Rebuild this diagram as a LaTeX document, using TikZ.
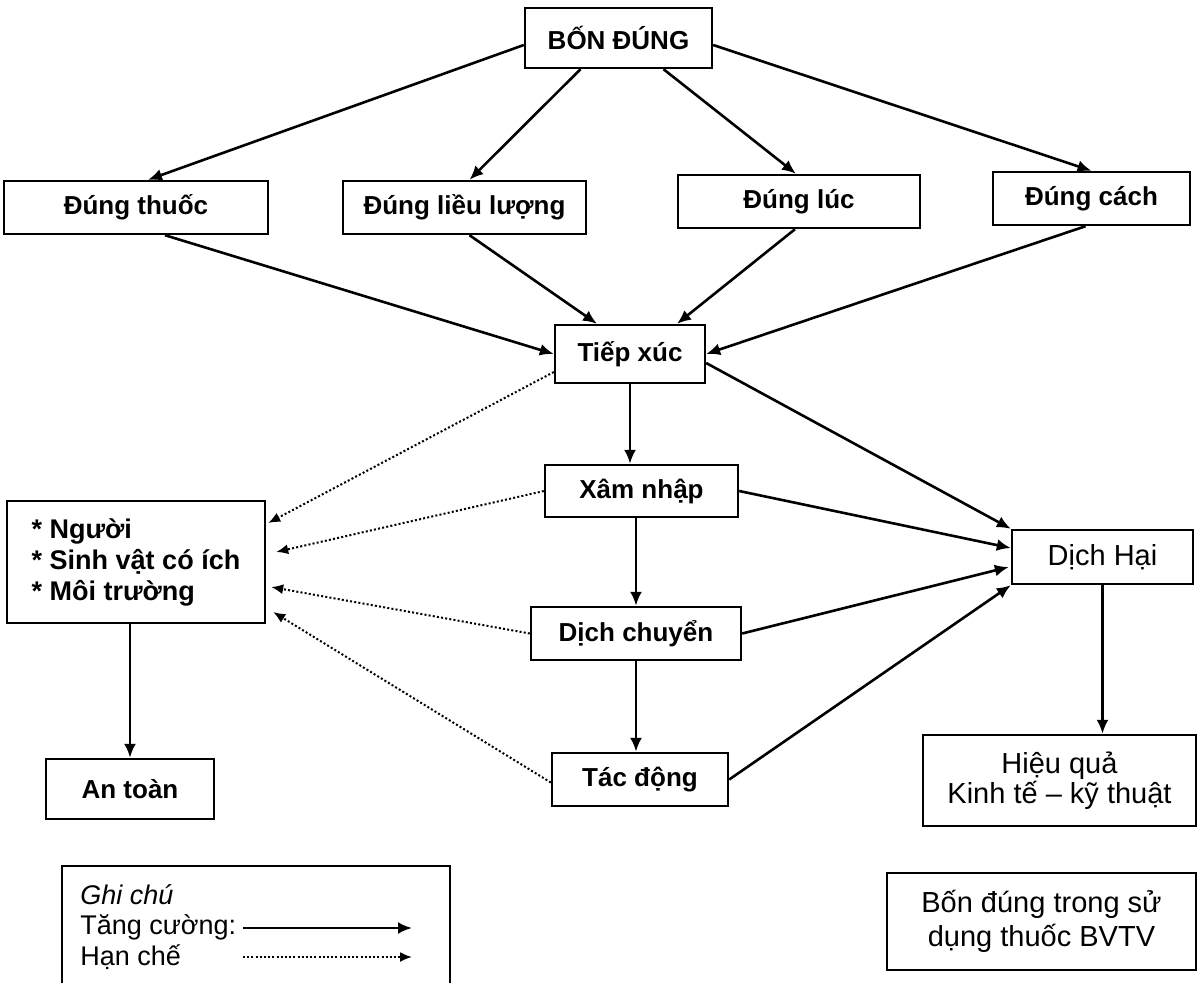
\documentclass[tikz,border=0pt]{standalone}
\usepackage{fontspec}
\setmainfont{Liberation Sans}
\usepackage{tikz}
\usetikzlibrary{positioning}
\usetikzlibrary{calc}
\usetikzlibrary{arrows.meta}

\newcommand{\boldtext}{\fontsize{13}{15.5}\selectfont\bfseries}
\newcommand{\plaintext}{\fontsize{14.5}{17}\selectfont}

\begin{document}
\begin{tikzpicture}[x=0.5pt,y=-0.5pt,
    main node/.style={draw,line width=1.2pt,inner sep=0pt,font=\boldtext},
    thin node/.style={main node,font=\plaintext},
    legend text/.style={inner sep=0pt,anchor=west,font=\fontsize{13.5}{16}\selectfont},
    boost/.style={-{Latex[length=7pt,width=6pt]},line width=1.3pt},
    limit/.style={-{Latex[length=6pt,width=5pt]},line width=1pt,dash pattern=on 1pt off 1.1pt}]
    \useasboundingbox (0,0) rectangle (1200,982);

    \node[main node,minimum width=93.5pt,minimum height=30pt] (bon) at (618.5,38) {BỐN ĐÚNG};
    \node[main node,minimum width=132pt,minimum height=26.5pt] (thuoc) at (136,207.5) {Đúng thuốc};
    \node[main node,minimum width=121.5pt,minimum height=26.5pt] (lieu) at (464.5,207.5) {Đúng liều lượng};
    \node[main node,minimum width=121pt,minimum height=26.5pt] (luc) at (799,201.5) {Đúng lúc};
    \node[main node,minimum width=98.5pt,minimum height=26.5pt] (cach) at (1091.5,198.5) {Đúng cách};
    \node[main node,minimum width=75pt,minimum height=29pt] (tiep) at (630,354) {Tiếp xúc};
    \node[main node,minimum width=96.5pt,minimum height=26pt] (xam) at (641.5,491) {Xâm nhập};
    \node[main node,minimum width=105pt,minimum height=26.5pt] (chuyen) at (636,633.5) {Dịch chuyển};
    \node[main node,minimum width=88pt,minimum height=26.5pt] (tac) at (640,779.5) {Tác động};
    \node[main node,minimum width=129pt,minimum height=61pt,align=left,
        font=\fontsize{13.5}{15.5}\selectfont\bfseries] (nguoi) at (136,562)
        {* Người\\* Sinh vật có ích\\* Môi trường};
    \node[main node,minimum width=84pt,minimum height=30pt] (antoan) at (130,789) {An toàn};
    \node[thin node,minimum width=90.5pt,minimum height=27pt] (dich) at (1102.5,557) {Dịch Hại};
    \node[thin node,minimum width=136.5pt,minimum height=45.5pt,align=center,
        font=\fontsize{14.5}{15}\selectfont] (hieu) at (1059.5,780.5)
        {Hiệu quả\\Kinh tế -- kỹ thuật};
    \node[thin node,minimum width=154.5pt,minimum height=48.5pt,align=center,
        font=\fontsize{14.5}{17}\selectfont] (tieude) at (1041.5,921.5)
        {Bốn đúng trong sử\\dụng thuốc BVTV};

    % chu thich
    \node[draw,line width=1.2pt,inner sep=0pt,minimum width=194pt,minimum height=67pt] (chuthich) at (256,933) {};
    \node[legend text] (ghichu) at (80,895) {\textit{Ghi chú}};
    \node[legend text] (tang) at (80,927) {Tăng cường:};
    \node[legend text] (han) at (80,957) {Hạn chế};
    \coordinate (tang1) at (243,928);
    \coordinate (tang2) at (412,928);
    \coordinate (han1) at (243,957);
    \coordinate (han2) at (412,957);
    \draw[boost] (tang1) -- (tang2);
    \draw[limit] (han1) -- (han2);

    \path[boost]
    ($(bon.west)+(0,7)$) edge ($(thuoc.north)+(12,0)$)
    ($(bon.south)+(-38,0)$) edge ($(lieu.north)+(5,0)$)
    ($(bon.south)+(45,0)$) edge ($(luc.north)+(-3,0)$)
    ($(bon.east)+(0,7)$) edge (cach.north)
    ($(thuoc.south)+(29,0)$) edge (tiep.west)
    ($(lieu.south)+(5,0)$) edge ($(tiep.north)+(-33,0)$)
    ($(luc.south)+(-4,0)$) edge ($(tiep.north)+(47,0)$)
    ($(cach.south)+(-6,0)$) edge (tiep.east)
    (tiep.south) edge (tiep.south |- xam.north)
    (xam.south -| chuyen.north) edge (chuyen.north)
    (chuyen.south) edge (chuyen.south |- tac.north)
    ($(tiep.east)+(0,9)$) edge (dich.north west)
    (xam.east) edge ($(dich.west)+(0,-9)$)
    (chuyen.east) edge ($(dich.west)+(-2,10)$)
    (tac.east) edge (dich.south west)
    (dich.south) edge (dich.south |- hieu.north)
    (nguoi.south -| antoan.north) edge (antoan.north);

    \path[limit]
    ($(tiep.west)+(0,18)$) edge ($(nguoi.east)+(2,-39)$)
    (xam.west) edge ($(nguoi.east)+(10,-10)$)
    (chuyen.west) edge ($(nguoi.east)+(5,25)$)
    ($(tac.west)+(0,3)$) edge ($(nguoi.east)+(7,50)$);
\end{tikzpicture}
\end{document}
